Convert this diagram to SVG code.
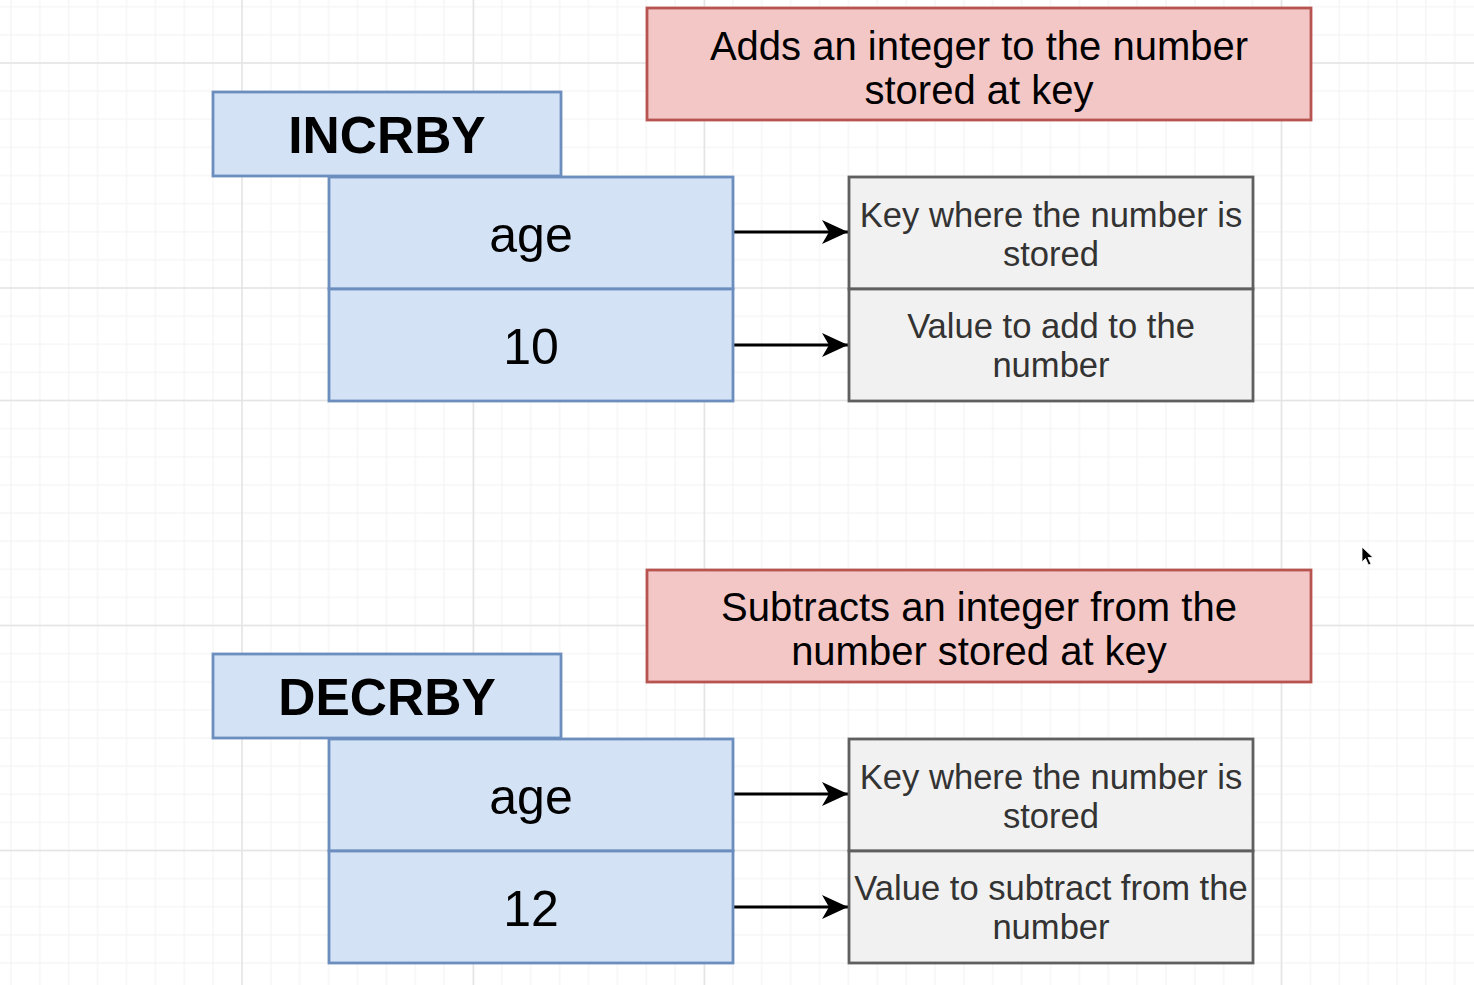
<svg xmlns="http://www.w3.org/2000/svg" width="1474" height="985" viewBox="0 0 1474 985">
<defs>
<style>
.blue{fill:#d4e2f5;stroke:#6c8ebf;stroke-width:2.8}
.red{fill:#f4c7c7;stroke:#b85450;stroke-width:2.8}
.grey{fill:#f1f1f1;stroke:#5f5f5f;stroke-width:2.8}
.t{font-family:"Liberation Sans",Arial,Helvetica,sans-serif;text-anchor:middle}
.cmd{font-size:51.5px;font-weight:bold;fill:#000}
.val{font-size:50px;fill:#000}
.desc{font-size:40px;fill:#000}
.note{font-size:34.6px;fill:#333}
.conn{stroke:#000;stroke-width:3;fill:none}
.major{stroke:#e4e4e4;stroke-width:1.5;fill:none}
</style>
<pattern id="minor" patternUnits="userSpaceOnUse" x="11" y="6.75" width="28.875" height="28.125">
<path d="M0 0V28.125M28.875 0V28.125M0 0H28.875M0 28.125H28.875" stroke="#f2f2f2" stroke-width="1" fill="none"/>
</pattern>
<marker id="arrow" markerUnits="userSpaceOnUse" viewBox="0 0 26 24" refX="26" refY="12" markerWidth="26" markerHeight="24" orient="auto">
<path d="M0 0L26 12L0 24L7 12Z" fill="#000"/>
</marker>
</defs>
<rect width="1474" height="985" fill="#ffffff"/>
<rect width="1474" height="985" fill="url(#minor)"/>
<path class="major" d="M242 0V985M473.5 0V985M704.5 0V985M1281.5 0V985M0 63H1474M0 288H1474M0 400.5H1474M0 625.5H1474M0 850.5H1474"/>

<g id="connectors">
<line class="conn" x1="734" y1="232" x2="848" y2="232" marker-end="url(#arrow)"/>
<line class="conn" x1="734" y1="345" x2="848" y2="345" marker-end="url(#arrow)"/>
<line class="conn" x1="734" y1="794" x2="848" y2="794" marker-end="url(#arrow)"/>
<line class="conn" x1="734" y1="907" x2="848" y2="907" marker-end="url(#arrow)"/>
</g>

<g id="incrby-desc">
<rect class="red" x="647" y="8" width="664" height="112"/>
<text class="t desc" x="979" y="60">Adds an integer to the number</text>
<text class="t desc" x="979" y="104">stored at key</text>
</g>
<g id="incrby">
<rect class="blue" x="213" y="92" width="348" height="84"/>
<text class="t cmd" x="387" y="153">INCRBY</text>
</g>
<g id="incrby-key">
<rect class="blue" x="329" y="177" width="404" height="112"/>
<text class="t val" x="531" y="252">age</text>
</g>
<g id="incrby-value">
<rect class="blue" x="329" y="289" width="404" height="112"/>
<text class="t val" x="531" y="364">10</text>
</g>
<g id="incrby-key-note">
<rect class="grey" x="849" y="177" width="404" height="112"/>
<text class="t note" x="1051" y="227">Key where the number is</text>
<text class="t note" x="1051" y="266">stored</text>
</g>
<g id="incrby-value-note">
<rect class="grey" x="849" y="289" width="404" height="112"/>
<text class="t note" x="1051" y="338">Value to add to the</text>
<text class="t note" x="1051" y="377">number</text>
</g>

<g id="decrby-desc">
<rect class="red" x="647" y="570" width="664" height="112"/>
<text class="t desc" x="979" y="621">Subtracts an integer from the</text>
<text class="t desc" x="979" y="665">number stored at key</text>
</g>
<g id="decrby">
<rect class="blue" x="213" y="654" width="348" height="84"/>
<text class="t cmd" x="387" y="715">DECRBY</text>
</g>
<g id="decrby-key">
<rect class="blue" x="329" y="739" width="404" height="112"/>
<text class="t val" x="531" y="814">age</text>
</g>
<g id="decrby-value">
<rect class="blue" x="329" y="851" width="404" height="112"/>
<text class="t val" x="531" y="926">12</text>
</g>
<g id="decrby-key-note">
<rect class="grey" x="849" y="739" width="404" height="112"/>
<text class="t note" x="1051" y="789">Key where the number is</text>
<text class="t note" x="1051" y="828">stored</text>
</g>
<g id="decrby-value-note">
<rect class="grey" x="849" y="851" width="404" height="112"/>
<text class="t note" x="1051" y="900">Value to subtract from the</text>
<text class="t note" x="1051" y="939">number</text>
</g>

<path d="M1362 547L1362 562L1365.5 558.5L1368.5 565L1371 564L1368 557.5L1373 557.5Z" fill="#000" stroke="#fff" stroke-width="0.8"/>
</svg>
